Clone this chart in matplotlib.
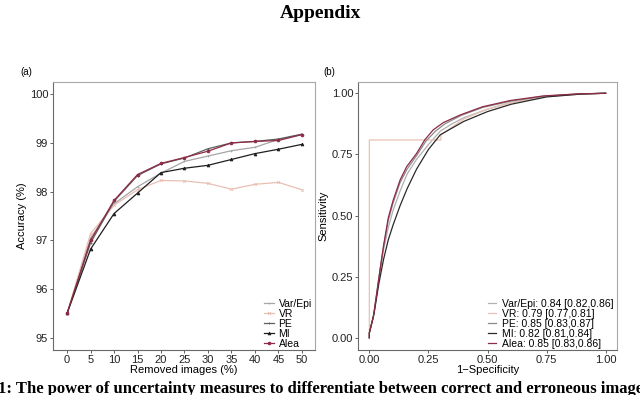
import matplotlib
matplotlib.use("Agg")
import matplotlib.pyplot as plt

plt.rcParams['font.family'] = ['Liberation Sans', 'DejaVu Sans']

# ---- panel (a): accuracy vs removed images ----
removed = [0, 5, 10, 15, 20, 25, 30, 35, 40, 45, 50]
acc_varepi = [95.5, 97.05, 97.75, 98.10, 98.38, 98.62, 98.73, 98.84, 98.91, 99.07, 99.17]
acc_vr = [95.5, 97.14, 97.72, 98.04, 98.23, 98.22, 98.17, 98.05, 98.15, 98.19, 98.04]
acc_pe = [95.5, 96.95, 97.80, 98.33, 98.57, 98.69, 98.88, 99.00, 99.03, 99.08, 99.18]
acc_mi = [95.5, 96.82, 97.55, 97.97, 98.39, 98.48, 98.54, 98.66, 98.78, 98.87, 98.97]
acc_alea = [95.5, 97.00, 97.82, 98.35, 98.58, 98.70, 98.83, 99.00, 99.03, 99.05, 99.17]

# ---- panel (b): ROC curves ----
fpr_alea = [0, 0.0, 0.017, 0.031, 0.045, 0.059, 0.08, 0.10, 0.13, 0.158, 0.20, 0.235, 0.27, 0.313, 0.384, 0.48, 0.595, 0.736, 0.877, 1.0]
tpr_alea = [0, 0.02, 0.085, 0.18, 0.276, 0.37, 0.49, 0.56, 0.645, 0.70, 0.754, 0.81, 0.85, 0.88, 0.911, 0.945, 0.97, 0.989, 0.997, 1.0]
fpr_pe = [0, 0.0, 0.017, 0.031, 0.045, 0.059, 0.08, 0.10, 0.13, 0.16, 0.20, 0.24, 0.28, 0.32, 0.39, 0.48, 0.60, 0.74, 0.88, 1.0]
tpr_pe = [0, 0.02, 0.085, 0.18, 0.275, 0.365, 0.48, 0.55, 0.635, 0.69, 0.745, 0.805, 0.845, 0.875, 0.91, 0.942, 0.968, 0.988, 0.997, 1.0]
fpr_varepi = [0, 0.0, 0.02, 0.04, 0.06, 0.08, 0.10, 0.13, 0.16, 0.20, 0.25, 0.30, 0.35, 0.40, 0.50, 0.60, 0.75, 0.90, 1.0]
tpr_varepi = [0, 0.02, 0.10, 0.24, 0.36, 0.45, 0.52, 0.60, 0.67, 0.73, 0.79, 0.845, 0.875, 0.90, 0.935, 0.962, 0.987, 0.997, 1.0]
fpr_mi = [0, 0.0, 0.02, 0.04, 0.06, 0.08, 0.10, 0.13, 0.16, 0.20, 0.25, 0.30, 0.40, 0.50, 0.60, 0.75, 0.90, 1.0]
tpr_mi = [0, 0.02, 0.10, 0.22, 0.32, 0.40, 0.46, 0.54, 0.61, 0.69, 0.77, 0.83, 0.885, 0.925, 0.955, 0.985, 0.997, 1.0]
fpr_vr = [0, 0.0, 0.303, 0.303, 0.40, 0.50, 0.60, 0.75, 0.90, 1.0]
tpr_vr = [0, 0.809, 0.809, 0.83, 0.895, 0.935, 0.962, 0.987, 0.997, 1.0]

names = ['Var/Epi', 'VR', 'PE', 'MI', 'Alea']
auc_labels = ['Var/Epi: 0.84 [0.82,0.86]', 'VR: 0.79 [0.77,0.81]', 'PE: 0.85 [0.83,0.87]',
              'MI: 0.82 [0.81,0.84]', 'Alea: 0.85 [0.83,0.86]']

colors = ['#a6a6a6', '#e9bfb3', '#5e5e5e', '#1e1e1e', '#8e2a45']
markers = ['+', 'x', '+', '^', 'o']

fig = plt.figure(figsize=(6.4, 3.95), dpi=100)

fig.text(0.5, 0.967, 'Appendix', ha='center', va='center', fontsize=14,
         fontweight='bold', family='Liberation Serif')
fig.text(-0.003, 0.015, '1: The power of uncertainty measures to differentiate between correct and erroneous images',
         ha='left', va='center', fontsize=12, fontweight='bold', family='Liberation Serif')

def style_axes(ax):
    for s in ['top', 'right']:
        ax.spines[s].set_color('#a8a8a8')
    for s in ['left', 'bottom']:
        ax.spines[s].set_color('#6a6a6a')
    for s in ax.spines.values():
        s.set_linewidth(0.8)
    ax.tick_params(length=2, width=0.6, color='#444444', labelsize=8, pad=1.5, labelcolor='#222222')

# panel (a)
ax1 = fig.add_axes([53 / 640, 45 / 395, 262 / 640, 268 / 395])
acc_all = [acc_varepi, acc_vr, acc_pe, acc_mi, acc_alea]
for y, name, c, m in zip(acc_all, names, colors, markers):
    ax1.plot(removed, y, color=c, lw=0.9, marker=m, ms=2.0, mew=0.6, label=name)
ax1.set_xlim(-3, 52.8)
ax1.set_ylim(94.75, 100.25)
ax1.set_xticks(removed)
ax1.set_yticks([95, 96, 97, 98, 99, 100])
ax1.set_xlabel('Removed images (%)', fontsize=8, labelpad=0)
ax1.set_ylabel('Accuracy (%)', fontsize=8, labelpad=2)
style_axes(ax1)
ax1.legend(loc='lower left', bbox_to_anchor=(264 / 640, 46 / 395), bbox_transform=fig.transFigure,
           frameon=False, fontsize=7.5, handlelength=1.0, handletextpad=0.4, labelspacing=0.0,
           borderpad=0, borderaxespad=0)
fig.text(20 / 640, 1 - 72 / 395, '(a)', fontsize=7, va='center', ha='left')

# panel (b)
ax2 = fig.add_axes([358 / 640, 45 / 395, 259 / 640, 268 / 395])
fpr_all = [fpr_varepi, fpr_vr, fpr_pe, fpr_mi, fpr_alea]
tpr_all = [tpr_varepi, tpr_vr, tpr_pe, tpr_mi, tpr_alea]
roc_colors = ['#b0b0b0', '#e9c3b3', '#8a8a8a', '#2a2a2a', '#8e2a45']
for x, y, lab, c in zip(fpr_all, tpr_all, auc_labels, roc_colors):
    ax2.plot(x, y, color=c, lw=0.9, label=lab)
ax2.set_xlim(-0.048, 1.048)
ax2.set_ylim(-0.05, 1.046)
ax2.set_xticks([0, 0.25, 0.5, 0.75, 1.0])
ax2.set_xticklabels(['0.00', '0.25', '0.50', '0.75', '1.00'])
ax2.set_yticks([0, 0.25, 0.5, 0.75, 1.0])
ax2.set_yticklabels(['0.00', '0.25', '0.50', '0.75', '1.00'])
ax2.set_xlabel('1\u2212Specificity', fontsize=8, labelpad=0)
ax2.set_ylabel('Sensitivity', fontsize=8, labelpad=2)
style_axes(ax2)
ax2.legend(loc='lower left', bbox_to_anchor=(488 / 640, 46 / 395), bbox_transform=fig.transFigure,
           frameon=False, fontsize=7.5, handlelength=0.8, handletextpad=0.5, labelspacing=0.0,
           borderpad=0, borderaxespad=0)
fig.text(323 / 640, 1 - 72 / 395, '(b)', fontsize=7, va='center', ha='left')

fig.savefig('out.png', dpi=100)
